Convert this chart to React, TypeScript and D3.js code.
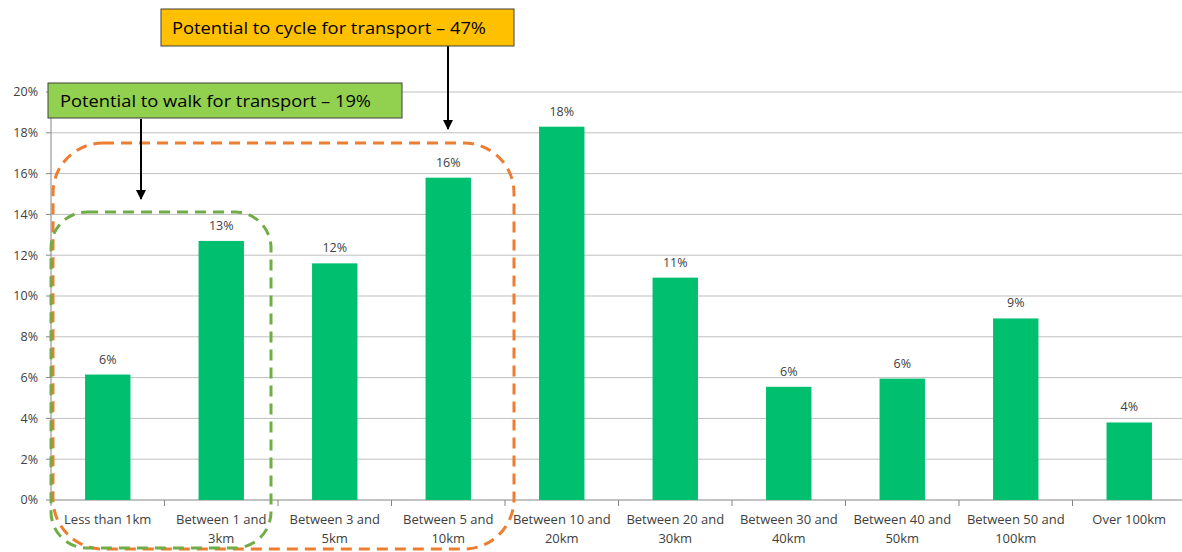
import React from "react";
import * as d3 from "d3";

const categories: string[][] = [
  ["Less than 1km"],
  ["Between 1 and", "3km"],
  ["Between 3 and", "5km"],
  ["Between 5 and", "10km"],
  ["Between 10 and", "20km"],
  ["Between 20 and", "30km"],
  ["Between 30 and", "40km"],
  ["Between 40 and", "50km"],
  ["Between 50 and", "100km"],
  ["Over 100km"],
];
const values: number[] = [6.15, 12.7, 11.6, 15.8, 18.3, 10.9, 5.55, 5.95, 8.9, 3.8];
const valueLabels: string[] = ["6%", "13%", "12%", "16%", "18%", "11%", "6%", "6%", "9%", "4%"];
const yTicks: number[] = [0, 2, 4, 6, 8, 10, 12, 14, 16, 18, 20];
const cycleText = "Potential to cycle for transport \u2013 47%";
const walkText = "Potential to walk for transport \u2013 19%";

const W = 1182;
const H = 552;
const FONT = "'Open Sans', 'Noto Sans', sans-serif";

export default function App() {
  const x = d3
    .scaleBand<number>()
    .domain(d3.range(categories.length))
    .range([51, 1186])
    .paddingInner(0.6)
    .paddingOuter(0.3);
  const band = d3.scaleBand<number>().domain(d3.range(categories.length)).range([51, 1186]);
  const y = d3.scaleLinear().domain([0, 20]).range([500, 92]);

  return (
    <svg width={W} height={H} style={{ position: "absolute", left: 0, top: 0, background: "#fff" }}>
      <defs>
        <marker id="arr" viewBox="0 0 10 10" refX="9" refY="5" markerWidth="5" markerHeight="5" orient="auto">
          <path d="M0,0 L10,5 L0,10 z" fill="#000" />
        </marker>
      </defs>
      {yTicks.map((t) => (
        <line key={t} x1={51} x2={W} y1={y(t)} y2={y(t)} stroke={t === 0 ? "#868686" : "#bfbfbf"} strokeWidth={1} />
      ))}
      <line x1={51} x2={51} y1={y(0)} y2={y(20)} stroke="#868686" />
      {yTicks.map((t) => (
        <g key={"yt" + t}>
          <line x1={46} x2={51} y1={y(t)} y2={y(t)} stroke="#868686" />
          <text x={38} y={y(t)} dy="0.35em" textAnchor="end" fontFamily={FONT} fontSize={12.5} fill="#404040">
            {t}%
          </text>
        </g>
      ))}
      {d3.range(categories.length + 1).map((i) => {
        const xx = 51 + i * band.bandwidth();
        return <line key={"xt" + i} x1={xx} x2={xx} y1={500} y2={506} stroke="#868686" />;
      })}
      {values.map((v, i) => (
        <g key={"b" + i}>
          <rect x={x(i)!} y={y(v)} width={x.bandwidth()} height={y(0) - y(v)} fill="#00BF6F" />
          <text
            x={x(i)! + x.bandwidth() / 2}
            y={y(v) - 11}
            textAnchor="middle"
            fontFamily={FONT}
            fontSize={12.5}
            fill="#404040"
          >
            {valueLabels[i]}
          </text>
        </g>
      ))}
      {categories.map((lines, i) => (
        <text
          key={"xl" + i}
          x={band(i)! + band.bandwidth() / 2}
          y={524}
          textAnchor="middle"
          fontFamily={FONT}
          fontSize={13}
          fill="#404040"
        >
          {lines.map((l, j) => (
            <tspan key={j} x={band(i)! + band.bandwidth() / 2} dy={j === 0 ? 0 : 19}>
              {l}
            </tspan>
          ))}
        </text>
      ))}
      <rect x={53} y={143} width={461} height={406} rx={50} ry={50} fill="none" stroke="#ED7D31" strokeWidth={3} strokeDasharray="11 7" />
      <rect x={51} y={212} width={220} height={336} rx={36} ry={36} fill="none" stroke="#70AD47" strokeWidth={3} strokeDasharray="11 7" />
      <line x1={448} x2={448} y1={46} y2={129} stroke="#000" strokeWidth={2} markerEnd="url(#arr)" />
      <line x1={141} x2={141} y1={119} y2={199} stroke="#000" strokeWidth={2} markerEnd="url(#arr)" />
      <rect x={161} y={9} width={353} height={37} fill="#FFC000" stroke="#404040" strokeWidth={1} />
      <text x={172} y={34} fontFamily={FONT} fontSize={17} fill="#000" textLength={314} lengthAdjust="spacingAndGlyphs">
        {cycleText}
      </text>
      <rect x={48} y={83} width={354} height={35} fill="#92D050" stroke="#404040" strokeWidth={1} />
      <text x={60} y={107} fontFamily={FONT} fontSize={17} fill="#000" textLength={311} lengthAdjust="spacingAndGlyphs">
        {walkText}
      </text>
    </svg>
  );
}
